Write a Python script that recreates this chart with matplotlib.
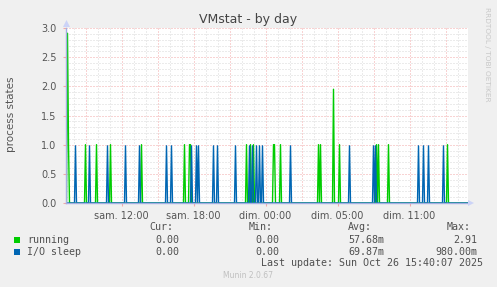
import numpy as np
import matplotlib
matplotlib.use('Agg')
import matplotlib.pyplot as plt
from matplotlib.patches import Rectangle, Polygon

W, H = 497, 287

# minutes écoulées depuis sam. 00:00 (heure d'été), échantillons de 5 min
running_min = [450, 455, 540, 595, 665, 820, 1035, 1060, 1065, 1345, 1365, 1380,
               1480, 1485, 1515, 1705, 1715, 1780, 1810, 1995, 2005, 2055, 2350]
running_val = [2.91, 1.0, 1.0, 1.0, 1.0, 1.0, 1.0, 1.0, 1.0, 1.0, 1.0, 1.0,
               1.0, 1.0, 1.0, 1.0, 1.0, 1.95, 1.0, 1.0, 1.0, 1.0, 1.0]
iosleep_min = [490, 560, 650, 740, 810, 945, 970, 1070, 1095, 1105, 1180, 1200, 1290,
               1360, 1375, 1395, 1410, 1425, 1565, 1860, 1980, 1990, 2205, 2230, 2255, 2330]
iosleep_val = [0.98] * len(iosleep_min)

tick_pos = [12, 18, 24, 30, 36]
tick_lab = ['sam. 12:00', 'sam. 18:00', 'dim. 00:00', 'dim. 05:00', 'dim. 11:00']
x0, x1 = 7.375, 40.875

c_run = '#00CC00'
c_io = '#0066B3'
c_axis = '#A4AEE2'
c_arrow = '#CCD3F7'
c_txt = '#555555'

# grille de 5 min
k0 = int(np.ceil(x0 * 12))
k1 = int(np.floor(x1 * 12))
t = np.arange(k0, k1 + 1) / 12.0


def series(mins, vals):
    y = np.zeros(len(t))
    idx = np.array(mins) // 5 - k0
    y[idx] = vals
    return y


fig = plt.figure(figsize=(W / 100, H / 100), dpi=100)
fig.patch.set_facecolor('#F0F0F0')
ax = fig.add_axes([66 / W, 84 / H, 402 / W, 175 / H])
ax.set_facecolor('white')

ax.set_xlim(x0, x1)
ax.set_ylim(0, 3.0)

# grilles
dots = (0, (1, 2))
for h in range(8, 41):
    if h % 3:
        ax.axvline(h, color='#D8D8D8', lw=0.72, ls=dots, zorder=0)
for v in np.arange(0.1, 3.0, 0.1):
    if abs(v * 2 - round(v * 2)) > 1e-6:
        ax.axhline(v, color='#D8D8D8', lw=0.72, ls=dots, zorder=0)
for h in range(9, 41, 3):
    ax.axvline(h, color='#F2A8A8', lw=0.72, ls=dots, zorder=0.5)
for v in np.arange(0.5, 3.01, 0.5):
    ax.axhline(v, color='#F2A8A8', lw=0.72, ls=dots, zorder=0.5, clip_on=False)

ax.plot(t, series(running_min, running_val), color=c_run, lw=1.0, zorder=2)
ax.plot(t, series(iosleep_min, iosleep_val), color=c_io, lw=1.0, zorder=3)

for s in ['top', 'right']:
    ax.spines[s].set_visible(False)
for s in ['left', 'bottom']:
    ax.spines[s].set_color(c_axis)
    ax.spines[s].set_linewidth(1.0)
    ax.spines[s].set_zorder(4)

ax.set_xticks(tick_pos)
ax.set_xticklabels(tick_lab)
ax.set_yticks(np.arange(0, 3.01, 0.5))
ax.set_yticklabels(['%.1f' % v for v in np.arange(0, 3.01, 0.5)])
ax.tick_params(axis='both', length=2, color='#F2A8A8', labelsize=7, labelcolor=c_txt, pad=4)
ax.tick_params(axis='y', pad=5)

# flèches des axes
fig.add_artist(Polygon([[468 / W, 1 - 200 / H], [474 / W, 1 - 203 / H], [468 / W, 1 - 206 / H]],
                       closed=True, transform=fig.transFigure, color=c_arrow, lw=0))
fig.add_artist(Polygon([[63 / W, 1 - 27 / H], [66.5 / W, 1 - 20 / H], [70 / W, 1 - 27 / H]],
                       closed=True, transform=fig.transFigure, color=c_arrow, lw=0))


def ftext(x, y, s, **kw):
    fig.text(x / W, 1 - y / H, s, **kw)


ftext(248.5, 19, 'VMstat - by day', ha='center', va='center', fontsize=9, color='#444444')
ftext(11, 114, 'process states', ha='center', va='center', rotation=90, fontsize=7.5, color=c_txt)
ftext(487.5, 54, 'RRDTOOL / TOBI OETIKER', ha='center', va='center', rotation=270,
      fontsize=5.3, color='#C8C8C8')

mono = dict(family='DejaVu Sans Mono', fontsize=7.2, color='#505050', va='center')
for x, s in [(149, 'Cur:'), (249, 'Min:'), (348, 'Avg:'), (447, 'Max:')]:
    ftext(x, 227.5, s, **mono)

rows = [
    (239.7, c_run, 'running', ['0.00', '0.00', '57.68m', '2.91'], [155, 255, 348, 453]),
    (251.7, c_io, 'I/O sleep', ['0.00', '0.00', '69.87m', '980.00m'], [155, 255, 348, 435]),
]
for y, c, name, vals, xs in rows:
    fig.add_artist(Rectangle((14 / W, 1 - (y + 3) / H), 6 / W, 6 / H,
                             transform=fig.transFigure, color=c, lw=0))
    ftext(27, y, name, **mono)
    for x, s in zip(xs, vals):
        ftext(x, y, s, **mono)

ftext(261, 263.5, 'Last update: Sun Oct 26 15:40:07 2025', **mono)
ftext(248, 276, 'Munin 2.0.67', ha='center', va='center', fontsize=5.5, color='#C0C0C0')

fig.savefig('out.png', dpi=100, facecolor=fig.get_facecolor())
